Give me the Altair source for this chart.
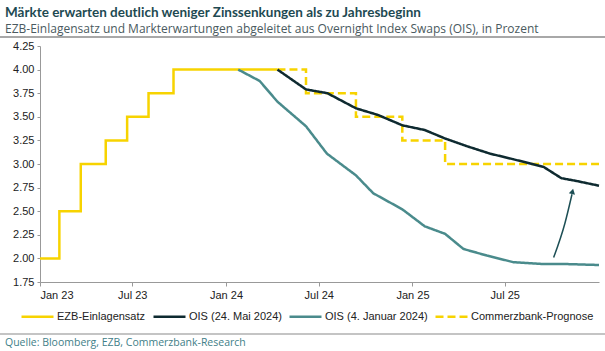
import altair as alt
import pandas as pd

# ---------------- data ----------------
series_names = ["EZB-Einlagensatz", "OIS (24. Mai 2024)", "OIS (4. Januar 2024)", "Commerzbank-Prognose"]
series_colors = ["#F7D300", "#0E2A30", "#4A8B8C", "#F7D300"]
series_dash = [[1, 0], [1, 0], [1, 0], [8, 4]]

ezb_dates = ["2023-01-01", "2023-02-08", "2023-03-22", "2023-05-10", "2023-06-21",
             "2023-08-02", "2023-09-20", "2024-04-11"]
ezb_values = [2.00, 2.50, 3.00, 3.25, 3.50, 3.75, 4.00, 4.00]

cb_dates = ["2024-04-11", "2024-06-06", "2024-09-12", "2024-12-12", "2025-03-06", "2026-01-02"]
cb_values = [4.00, 3.75, 3.50, 3.25, 3.00, 3.00]

ois_may_dates = ["2024-04-11", "2024-06-06", "2024-07-18", "2024-09-12", "2024-10-25",
                 "2024-12-12", "2025-01-25", "2025-03-06", "2025-04-17", "2025-06-02",
                 "2025-07-18", "2025-09-15", "2025-10-20", "2025-11-19", "2026-01-02"]
ois_may_values = [4.00, 3.79, 3.75, 3.59, 3.52, 3.41, 3.36, 3.27, 3.19, 3.11,
                  3.05, 2.97, 2.85, 2.82, 2.77]

ois_jan_dates = ["2024-01-25", "2024-03-07", "2024-04-11", "2024-06-06", "2024-07-17",
                 "2024-09-12", "2024-10-16", "2024-12-12", "2025-01-25", "2025-03-06",
                 "2025-04-11", "2025-05-27", "2025-07-18", "2025-09-15", "2025-10-30",
                 "2026-01-02"]
ois_jan_values = [4.00, 3.88, 3.66, 3.40, 3.11, 2.88, 2.69, 2.52, 2.34, 2.26,
                  2.10, 2.03, 1.96, 1.94, 1.94, 1.93]

arrow_dates = ["2025-10-05", "2025-10-27", "2025-11-10"]
arrow_values = [2.01, 2.37, 2.68]
arrow_head_dates = ["2025-11-11"]
arrow_head_values = [2.71]

y_ticks = [1.75, 2.00, 2.25, 2.50, 2.75, 3.00, 3.25, 3.50, 3.75, 4.00, 4.25]
x_tick_months = [(2023, 1), (2023, 7), (2024, 1), (2024, 7), (2025, 1), (2025, 7)]

title_text = "Märkte erwarten deutlich weniger Zinssenkungen als zu Jahresbeginn"
subtitle_text = "EZB-Einlagensatz und Markterwartungen abgeleitet aus Overnight Index Swaps (OIS), in Prozent"
source_text = "Quelle: Bloomberg, EZB, Commerzbank-Research"


def sdf(name, dates, values):
    return pd.DataFrame({"date": dates, "value": values, "series": name})


ezb_df = sdf(series_names[0], ezb_dates, ezb_values)
may_df = sdf(series_names[1], ois_may_dates, ois_may_values)
jan_df = sdf(series_names[2], ois_jan_dates, ois_jan_values)
cb_df = sdf(series_names[3], cb_dates, cb_values)
arrow_df = pd.DataFrame({"date": arrow_dates, "value": arrow_values})
head_df = pd.DataFrame({"date": arrow_head_dates, "value": arrow_head_values})

# ---------------- encodings ----------------
x_enc = alt.X(
    "date:T",
    scale=alt.Scale(type="utc",
                    domain=[alt.DateTime(year=2023, month=1, date=1, utc=True),
                            alt.DateTime(year=2026, month=1, date=2, utc=True)]),
    axis=alt.Axis(title=None,
                  values=[alt.DateTime(year=y, month=m, date=1, utc=True) for y, m in x_tick_months],
                  labelExpr="utcFormat(datum.value, '%b %y')",
                  tickSize=4, labelPadding=3),
)
y_enc = alt.Y(
    "value:Q",
    scale=alt.Scale(domain=[1.75, 4.25], nice=False, zero=False),
    axis=alt.Axis(title=None, values=y_ticks, format=".2f", tickSize=3, labelPadding=3),
)
legend = alt.Legend(
    title=None, orient="none", legendX=-20, legendY=253, direction="horizontal",
    columns=4, symbolType="stroke", symbolSize=1024, symbolStrokeWidth=2.5,
    labelFont="Liberation Sans", labelFontSize=11, labelColor="#222222",
    labelOffset=2, columnPadding=2, padding=0,
)
color_enc = alt.Color("series:N", scale=alt.Scale(domain=series_names, range=series_colors),
                      legend=legend)
dash_enc = alt.StrokeDash("series:N", scale=alt.Scale(domain=series_names, range=series_dash),
                          legend=legend)


def line_layer(df, interp):
    return alt.Chart(df).mark_line(strokeWidth=2.5, interpolate=interp).encode(
        x=x_enc, y=y_enc, color=color_enc, strokeDash=dash_enc
    )


cb_line = line_layer(cb_df, "step-after")
ezb_line = line_layer(ezb_df, "step-after")
jan_line = line_layer(jan_df, "linear")
may_line = line_layer(may_df, "linear")

arrow_line = alt.Chart(arrow_df).mark_line(color="#1D4F55", strokeWidth=1.5,
                                           interpolate="monotone").encode(x=x_enc, y=y_enc)
arrow_head = alt.Chart(head_df).mark_point(shape="triangle-up", filled=True, color="#1D4F55",
                                           size=40, angle=13, opacity=1).encode(x=x_enc, y=y_enc)

# ---------------- decorations ----------------
one = pd.DataFrame({"t": [title_text], "s": [subtitle_text], "q": [source_text]})
title_mark = alt.Chart(one).mark_text(align="left", baseline="alphabetic", font="Lato",
                                      fontWeight="bold", fontSize=13.5, color="#1E4A52").encode(
    x=alt.value(-35), y=alt.value(-29), text="t:N")
subtitle_mark = alt.Chart(one).mark_text(align="left", baseline="alphabetic", font="Open Sans",
                                         fontSize=12, color="#4A5A60").encode(
    x=alt.value(-35), y=alt.value(-13.5), text="s:N")
source_mark = alt.Chart(one).mark_text(align="left", baseline="middle", font="Open Sans",
                                       fontSize=10.5, color="#3F8088").encode(
    x=alt.value(-35), y=alt.value(297), text="q:N")
rule_top = alt.Chart(one).mark_rule(color="#A8A8A8", strokeWidth=2).encode(
    x=alt.value(-40), x2=alt.value(565), y=alt.value(-9))
rule_bottom = alt.Chart(one).mark_rule(color="#B0B0B0", strokeWidth=1.5).encode(
    x=alt.value(-40), x2=alt.value(565), y=alt.value(288))

chart = alt.layer(
    rule_top, rule_bottom, title_mark, subtitle_mark, source_mark,
    cb_line, ezb_line, jan_line, may_line, arrow_line, arrow_head,
).properties(
    width=559, height=236,
    padding={"left": 40, "top": 46, "right": 6, "bottom": 69},
    autosize=alt.AutoSizeParams(type="none"),
    background="white",
).configure_view(stroke=None).configure_axis(
    labelFont="Liberation Sans", labelFontSize=11, labelColor="#222222",
    domainColor="#999999", tickColor="#999999", grid=False,
)

chart.save("out.html", embed_options={"renderer": "svg", "actions": False})
